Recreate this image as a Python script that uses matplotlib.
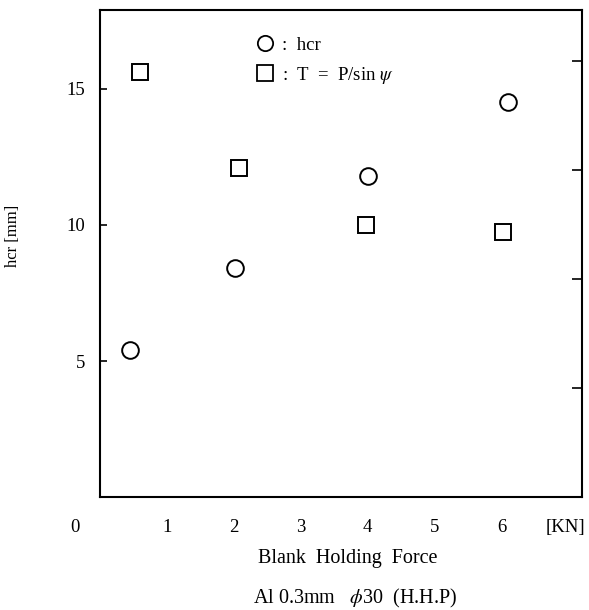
import matplotlib.pyplot as plt
from matplotlib.lines import Line2D

# data
force_hcr = [0.45, 2.02, 4.0, 6.1]
hcr = [5.4, 8.4, 11.8, 14.5]
force_T = [0.6, 2.08, 3.98, 6.02]
T = [15.6, 12.1, 10.0, 9.75]

x_ticks = [1, 2, 3, 4, 5, 6]
y_ticks = [5, 10, 15]
y_ticks_right = [4, 8, 12, 16]
x_marks = [2, 4, 6]

plt.rcParams['font.family'] = ['Liberation Serif', 'DejaVu Serif']
plt.rcParams['mathtext.fontset'] = 'stix'

fig = plt.figure(figsize=(5.89, 6.10), dpi=100)
ax = fig.add_axes([0.170, 0.185, 0.818, 0.799])

ax.plot(force_hcr, hcr, ls='', marker='o', ms=12, mfc='none', mec='k', mew=1.4)
ax.plot(force_T, T, ls='', marker='s', ms=11.5, mfc='none', mec='k', mew=1.4)

ax.set_xlim(0, 7.2)
ax.set_ylim(0, 17.9)

for s in ax.spines.values():
    s.set_linewidth(1.5)

ax.set_xticks(x_ticks)
ax.set_xticklabels([str(v) for v in x_ticks])
ax.set_xticks(x_marks, minor=True)
ax.tick_params(axis='x', which='major', length=0, pad=16, labelsize=13.5)
ax.tick_params(axis='x', which='minor', direction='in', length=3, width=1.2)

ax.set_yticks(y_ticks)
ax.set_yticklabels([str(v) for v in y_ticks])
ax.set_yticks(y_ticks_right, minor=True)
ax.tick_params(axis='y', which='major', direction='in', length=5, width=1.2,
               pad=11, labelsize=13.5)
ax.tick_params(axis='y', which='minor', left=False, right=True,
               direction='in', length=7, width=1.2)

# origin label and unit at the ends of the x axis
ax.annotate('0', xy=(0, 0), xycoords=('data', 'axes fraction'),
            xytext=(-18, -16), textcoords='offset points',
            ha='center', va='top', fontsize=13.5)
ax.annotate('[KN]', xy=(1, 0), xycoords='axes fraction',
            xytext=(-12, -16), textcoords='offset points',
            ha='center', va='top', fontsize=13.5)

handles = [
    Line2D([], [], ls='', marker='o', ms=11, mfc='none', mec='k', mew=1.3),
    Line2D([], [], ls='', marker='s', ms=11, mfc='none', mec='k', mew=1.3),
]
ax.legend(handles, [':  hcr', ':  T  =  P/sin $\\psi$'], loc='upper left',
          bbox_to_anchor=(0.284, 0.98), frameon=False, fontsize=13.5,
          handletextpad=0.3, labelspacing=0.6, handlelength=1.2)

fig.text(13 / 589, 1 - 236 / 610, 'hcr [mm]', rotation=90,
         ha='center', va='center', fontsize=12)
fig.text(348 / 589, 1 - 558 / 610, 'Blank  Holding  Force',
         ha='center', va='center', fontsize=14.5)
fig.text(355 / 589, 1 - 598 / 610, 'Al 0.3mm   $\\phi$30  (H.H.P)',
         ha='center', va='center', fontsize=14.5)

fig.savefig('out.png', dpi=100)
